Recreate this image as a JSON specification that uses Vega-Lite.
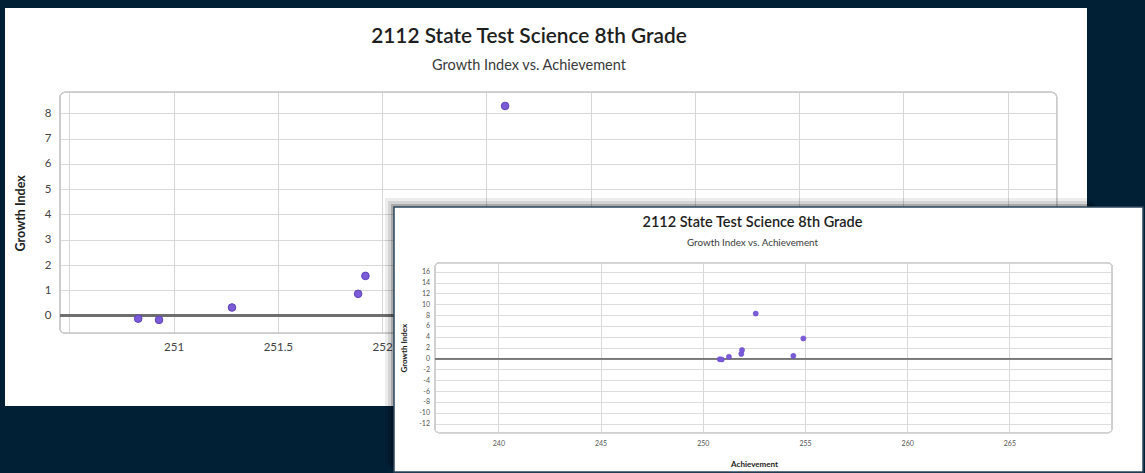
{
  "$schema": "https://vega.github.io/schema/vega-lite/v6.json",
  "background": "#012036",
  "padding": {"left": 5, "top": 8, "right": 1, "bottom": 0},
  "datasets": {
    "scores": [
      {"achievement": 250.83, "growth": -0.12},
      {"achievement": 250.93, "growth": -0.17},
      {"achievement": 251.28, "growth": 0.32},
      {"achievement": 251.885, "growth": 0.86},
      {"achievement": 251.92, "growth": 1.57},
      {"achievement": 252.59, "growth": 8.29},
      {"achievement": 254.43, "growth": 0.5},
      {"achievement": 254.92, "growth": 3.7}
    ]
  },
  "config": {
    "font": "Lato",
    "view": {"stroke": null},
    "axis": {"ticks": false, "domain": false, "labelOverlap": false, "labelFlush": false, "labelFont": "Lato", "titleFont": "Lato", "tickCount": 30}
  },
  "columns": 5,
  "align": "none",
  "spacing": -702,
  "concat": [
    {
      "width": 1082,
      "height": 398,
      "view": {"fill": "#ffffff", "stroke": null},
      "title": {
        "text": "2112 State Test Science 8th Grade",
        "subtitle": "Growth Index vs. Achievement",
        "anchor": "middle",
        "frame": "group",
        "offset": -65,
        "dx": -17,
        "font": "Lato",
        "fontSize": 20.8,
        "fontWeight": 600,
        "color": "#1e1e1e",
        "subtitleFont": "Lato",
        "subtitleFontSize": 14.5,
        "subtitleColor": "#3a3a3a",
        "subtitlePadding": 11
      },
      "data": {"name": "scores"},
      "layer": [
        {
          "mark": {"type": "rect", "fill": "transparent", "stroke": "#cccccc", "strokeWidth": 1, "cornerRadius": 5},
          "encoding": {
            "x": {
              "datum": 250.455, "type": "quantitative",
              "scale": {"domain": [250.455, 255.236], "range": [55, 1051.7], "nice": false, "zero": false},
              "axis": {
                "orient": "top", "offset": -325.3,
                "values": [250.5, 251, 251.5, 252, 252.5, 253, 253.5, 254, 254.5, 255],
                "tickCount": 30,
                "labelExpr": "datum.value < 250.9 ? '' : '' + datum.value",
                "labelBaseline": "top", "labelPadding": -8,
                "labelFontSize": 11.5, "labelColor": "#444444",
                "grid": true, "gridColor": "#d6d6d6",
                "title": null
              }
            },
            "x2": {"datum": 255.236},
            "y": {
              "datum": -0.7, "type": "quantitative",
              "scale": {"domain": [-0.7, 8.83], "range": [325.3, 84.3], "nice": false, "zero": false},
              "axis": {
                "orient": "left", "offset": -55,
                "values": [0, 1, 2, 3, 4, 5, 6, 7, 8],
                "tickCount": 30,
                "labelExpr": "'' + datum.value",
                "labelPadding": 9,
                "labelFontSize": 11.5, "labelColor": "#444444",
                "grid": true, "gridColor": "#d9d9d9",
                "title": "Growth Index",
                "titleX": -40, "titleY": 204.8, "titleAngle": -90, "titleBaseline": "middle", "titleAlign": "center",
                "titleFontSize": 12.5, "titleFontWeight": "bold", "titleColor": "#222222"
              }
            },
            "y2": {"datum": 8.83}
          }
        },
        {
          "mark": {"type": "rule", "color": "#6e6e6e", "strokeWidth": 2},
          "encoding": {
            "x": {"datum": 250.455, "type": "quantitative", "scale": {"domain": [250.455, 255.236], "range": [55, 1051.7], "nice": false, "zero": false}},
            "x2": {"datum": 255.236},
            "y": {"datum": 0, "type": "quantitative", "scale": {"domain": [-0.7, 8.83], "range": [325.3, 84.3], "nice": false, "zero": false}}
          }
        },
        {
          "mark": {"type": "circle", "size": 58, "color": "#7b5bd8", "stroke": "#5d43b8", "strokeWidth": 1, "opacity": 1},
          "encoding": {
            "x": {"field": "achievement", "type": "quantitative", "scale": {"domain": [250.455, 255.236], "range": [55, 1051.7], "nice": false, "zero": false}},
            "y": {"field": "growth", "type": "quantitative", "scale": {"domain": [-0.7, 8.83], "range": [325.3, 84.3], "nice": false, "zero": false}}
          }
        }
      ]
    },
    {
      "spacing": 189,
      "vconcat": [
        {"width": 1, "height": 1, "view": {"stroke": null}, "data": {"values": []}, "mark": {"type": "point"}, "encoding": {}},
        {"width": 705, "height": 266, "view": {"fill": "#000000", "fillOpacity": 0.07, "stroke": null}, "data": {"values": []}, "mark": {"type": "point"}, "encoding": {}}
      ]
    },
    {
      "spacing": 192,
      "vconcat": [
        {"width": 1, "height": 1, "view": {"stroke": null}, "data": {"values": []}, "mark": {"type": "point"}, "encoding": {}},
        {"width": 705, "height": 266, "view": {"fill": "#000000", "fillOpacity": 0.1, "stroke": null}, "data": {"values": []}, "mark": {"type": "point"}, "encoding": {}}
      ]
    },
    {
      "spacing": 195,
      "vconcat": [
        {"width": 1, "height": 1, "view": {"stroke": null}, "data": {"values": []}, "mark": {"type": "point"}, "encoding": {}},
        {"width": 704, "height": 266, "view": {"fill": "#000000", "fillOpacity": 0.2, "stroke": null}, "data": {"values": []}, "mark": {"type": "point"}, "encoding": {}}
      ]
    },
    {
      "spacing": 197,
      "vconcat": [
        {"width": 1, "height": 1, "view": {"stroke": null}, "data": {"values": []}, "mark": {"type": "point"}, "encoding": {}},
        {
          "width": 749,
          "height": 265,
          "view": {"fill": "#ffffff", "stroke": "#2e475c", "strokeWidth": 1.5},
          "title": {
            "text": "2112 State Test Science 8th Grade",
            "subtitle": "Growth Index vs. Achievement",
            "anchor": "middle",
            "frame": "group",
            "offset": -42,
            "dx": -16,
            "font": "Lato",
            "fontSize": 14.5,
            "fontWeight": 600,
            "color": "#1e1e1e",
            "subtitleFont": "Lato",
            "subtitleFontSize": 9.8,
            "subtitleColor": "#3a3a3a",
            "subtitlePadding": 8
          },
          "data": {"name": "scores"},
          "layer": [
            {
              "mark": {"type": "rect", "fill": "transparent", "stroke": "#d0d0d0", "strokeWidth": 1, "cornerRadius": 4},
              "encoding": {
                "x": {
                  "datum": 236.9, "type": "quantitative",
                  "scale": {"domain": [236.9, 270.02], "range": [41, 718], "nice": false, "zero": false},
                  "axis": {
                    "orient": "top", "offset": -225.7,
                    "values": [240, 245, 250, 255, 260, 265],
                    "tickCount": 30,
                    "labelExpr": "'' + datum.value",
                    "labelBaseline": "top", "labelPadding": -6.5,
                    "labelFontSize": 7, "labelColor": "#555555",
                    "grid": true, "gridColor": "#d8d8d8",
                    "title": "Achievement",
                    "titleX": 360, "titleY": 31.6, "titleAngle": 0, "titleBaseline": "middle", "titleAlign": "center",
                    "titleFontSize": 8, "titleFontWeight": "bold", "titleColor": "#222222"
                  }
                },
                "x2": {"datum": 270.02},
                "y": {
                  "datum": -13.66, "type": "quantitative",
                  "scale": {"domain": [-13.66, 17.66], "range": [225.7, 55.7], "nice": false, "zero": false},
                  "axis": {
                    "orient": "left", "offset": -41,
                    "values": [-12, -10, -8, -6, -4, -2, 0, 2, 4, 6, 8, 10, 12, 14, 16],
                    "tickCount": 30,
                    "labelExpr": "'' + datum.value",
                    "labelPadding": 5.5,
                    "labelFontSize": 7, "labelColor": "#555555",
                    "grid": true, "gridColor": "#dddddd",
                    "title": "Growth Index",
                    "titleX": -30.7, "titleY": 140.7, "titleAngle": -90, "titleBaseline": "middle", "titleAlign": "center",
                    "titleFontSize": 8, "titleFontWeight": "bold", "titleColor": "#222222"
                  }
                },
                "y2": {"datum": 17.66}
              }
            },
            {
              "mark": {"type": "rule", "color": "#777777", "strokeWidth": 1.2},
              "encoding": {
                "x": {"datum": 236.9, "type": "quantitative", "scale": {"domain": [236.9, 270.02], "range": [41, 718], "nice": false, "zero": false}},
                "x2": {"datum": 270.02},
                "y": {"datum": 0, "type": "quantitative", "scale": {"domain": [-13.66, 17.66], "range": [225.7, 55.7], "nice": false, "zero": false}}
              }
            },
            {
              "mark": {"type": "circle", "size": 26, "color": "#7b5bd8", "stroke": "#6a4fcc", "strokeWidth": 0.6, "opacity": 1},
              "encoding": {
                "x": {"field": "achievement", "type": "quantitative", "scale": {"domain": [236.9, 270.02], "range": [41, 718], "nice": false, "zero": false}},
                "y": {"field": "growth", "type": "quantitative", "scale": {"domain": [-13.66, 17.66], "range": [225.7, 55.7], "nice": false, "zero": false}}
              }
            }
          ]
        }
      ]
    }
  ]
}
